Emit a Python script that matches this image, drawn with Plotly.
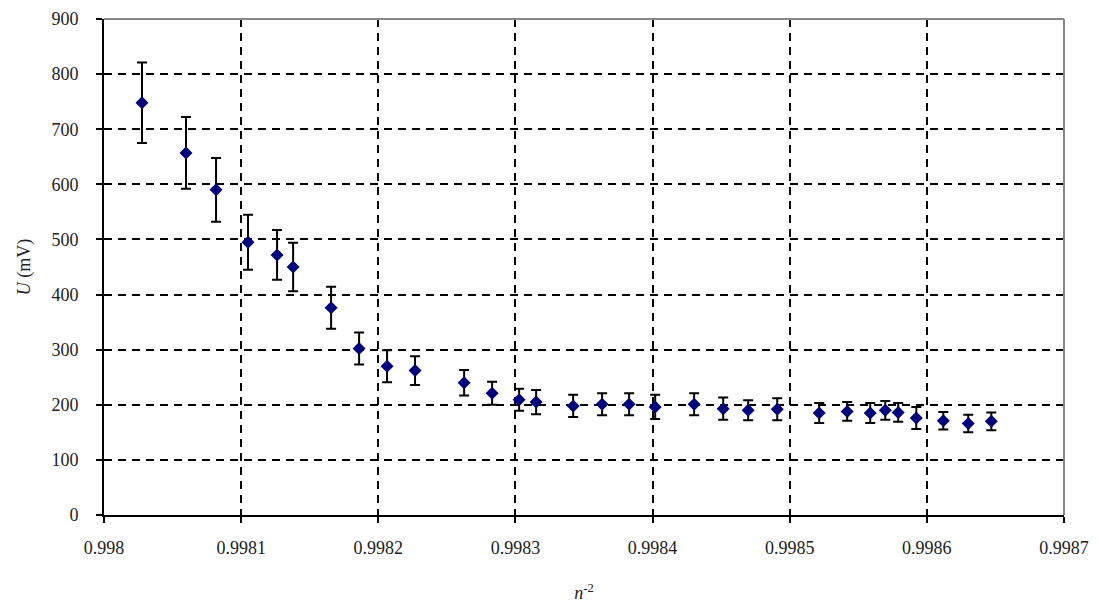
import plotly.graph_objects as go

# n^-2 values
n_inv2 = [0.9980277, 0.9980598, 0.9980817, 0.9981050, 0.9981262, 0.9981379, 0.9981656,
          0.9981860, 0.9982064, 0.9982268, 0.9982626, 0.9982830, 0.9983027, 0.9983151,
          0.9983421, 0.9983632, 0.9983829, 0.9984019, 0.9984303, 0.9984515, 0.9984697,
          0.9984909, 0.9985215, 0.9985419, 0.9985587, 0.9985697, 0.9985791, 0.9985923,
          0.9986120, 0.9986302, 0.9986470]
# U (mV)
u_mv = [748, 657, 590, 495, 472, 450, 376, 302, 270, 262, 240, 221, 209, 205, 198,
        201, 201, 196, 201, 193, 190, 192, 185, 188, 185, 190, 186, 176, 171, 166, 170]
# error (mV)
u_err = [73, 65, 58, 50, 45, 44, 38, 29, 29, 26, 23, 21, 20, 22, 20, 20, 20, 22,
         20, 20, 18, 20, 18, 17, 18, 17, 17, 20, 16, 16, 16]

x_tickvals = [0.998, 0.9981, 0.9982, 0.9983, 0.9984, 0.9985, 0.9986, 0.9987]
x_ticktext = ["0.998", "0.9981", "0.9982", "0.9983", "0.9984", "0.9985", "0.9986", "0.9987"]
y_tickvals = [0, 100, 200, 300, 400, 500, 600, 700, 800, 900]

font = "Liberation Serif"
txt = dict(family=font, size=18, color="#222")

fig = go.Figure()
fig.add_trace(go.Scatter(
    x=n_inv2, y=u_mv, mode="markers",
    marker=dict(symbol="diamond", size=10, color="#00007a"),
    error_y=dict(type="data", array=u_err, visible=True, color="black",
                 thickness=2, width=5),
    showlegend=False,
))

fig.update_layout(
    width=1101, height=606,
    margin=dict(l=104, r=37, t=19, b=91),
    paper_bgcolor="white", plot_bgcolor="white",
    font=txt,
    xaxis=dict(range=[0.998, 0.9987], tickvals=x_tickvals, ticktext=x_ticktext,
               showline=True, linecolor="black", linewidth=2,
               ticks="outside", ticklen=6, tickwidth=2, tickcolor="black",
               showgrid=True, gridcolor="black", gridwidth=2, griddash="8px,6px",
               zeroline=False, ticklabelstandoff=9, tickfont=txt, automargin=False,
               title=dict(text="<i>n</i><sup>-2</sup>", font=txt, standoff=30)),
    yaxis=dict(range=[0, 900], tickvals=y_tickvals,
               showline=True, linecolor="black", linewidth=2,
               ticks="outside", ticklen=6, tickwidth=2, tickcolor="black",
               showgrid=True, gridcolor="black", gridwidth=2, griddash="8px,6px",
               zeroline=False, ticklabelstandoff=14, tickfont=txt, automargin=False,
               title=dict(text="<i>U</i> (mV)", font=txt, standoff=16)),
    shapes=[dict(type="line", xref="paper", yref="paper", x0=0, x1=1, y0=1, y1=1,
                 line=dict(color="#888", width=2)),
            dict(type="line", xref="paper", yref="paper", x0=1, x1=1, y0=0, y1=1,
                 line=dict(color="#888", width=2))],
)

fig.write_html("out.html")
